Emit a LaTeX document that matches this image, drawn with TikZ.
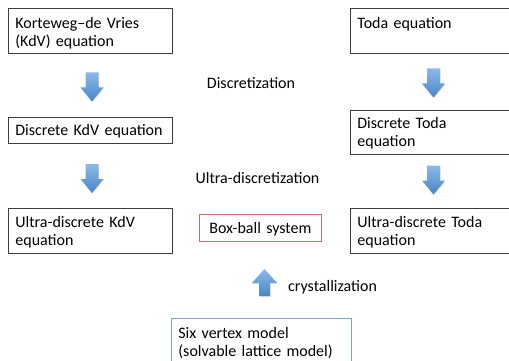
\documentclass[tikz,border=0pt]{standalone}
\usepackage{fontspec}
\setmainfont{Carlito}
\usetikzlibrary{shadows}
\definecolor{boxgray}{HTML}{3C3C3C}
\definecolor{boxred}{HTML}{D46A6A}
\definecolor{boxblue}{HTML}{7FA3D3}
\definecolor{arrlight}{HTML}{8CBAE8}
\definecolor{arrdark}{HTML}{4A84C6}
\begin{document}
\begin{tikzpicture}[x=1pt,y=-1pt,
  every node/.style={font=\fontsize{16}{18}\selectfont, text=black},
  box/.style={draw=boxgray, line width=0.8pt, anchor=north west, inner xsep=7pt, inner ysep=0pt, align=left},
  lbl/.style={inner sep=0pt},
  arrfill/.style={top color=arrlight, bottom color=arrdark, draw=none,
    drop shadow={opacity=0.2, shadow xshift=0.6pt, shadow yshift=-1pt}},
  downarr/.pic={\path[arrfill] (-6.5,0) -- (6.5,0) -- (6.5,15) -- (11.5,15) -- (0,29) -- (-11.5,15) -- (-6.5,15) -- cycle;},
  uparr/.pic={\path[arrfill] (-5.5,0) -- (5.5,0) -- (5.5,-13) -- (12.5,-13) -- (0,-27) -- (-12.5,-13) -- (-5.5,-13) -- cycle;}
]
\useasboundingbox (0,0) rectangle (509,361);

% left column
\node[box, text width=150pt, text height=20pt, text depth=25pt] (kdv) at (8,8) {Korteweg--de Vries\\(KdV) equation};
\node[box, text width=150pt, text height=18pt, text depth=8pt] (dkdv) at (8,117) {Discrete KdV equation};
\node[box, text width=150pt, text height=19.5pt, text depth=25.5pt] (udkdv) at (8,208) {Ultra-discrete KdV\\equation};

% right column
\node[box, text width=152pt, text height=20pt, text depth=25pt] (toda) at (350,8) {Toda equation};
\node[box, text width=152pt, text height=18.5pt, text depth=25.5pt] (dtoda) at (350,110) {Discrete Toda\\equation};
\node[box, text width=152pt, text height=19.5pt, text depth=25.5pt] (udtoda) at (350,208) {Ultra-discrete Toda\\equation};

% centre
\node[box, draw=boxred, inner xsep=5pt, text width=111.4pt, align=center, text height=19pt, text depth=7.4pt] (bbs) at (199.3,214.3) {Box-ball system};
\node[box, draw=boxblue, text width=166pt, text height=20pt, text depth=40pt] (six) at (171,318) {Six vertex model\\(solvable lattice model)};

% labels
\node[lbl, anchor=base] (disc) at (251,88.3) {Discretization};
\node[lbl, anchor=base] (udisc) at (257.5,183.3) {Ultra-discretization};
\node[lbl, anchor=base west] (cryst) at (288,291.7) {crystallization};

% block arrows
\pic at (92,72.5) {downarr};
\pic at (92,164) {downarr};
\pic at (433.5,68.5) {downarr};
\pic at (433.5,165.5) {downarr};
\pic at (264.5,296) {uparr};
\end{tikzpicture}
\end{document}
